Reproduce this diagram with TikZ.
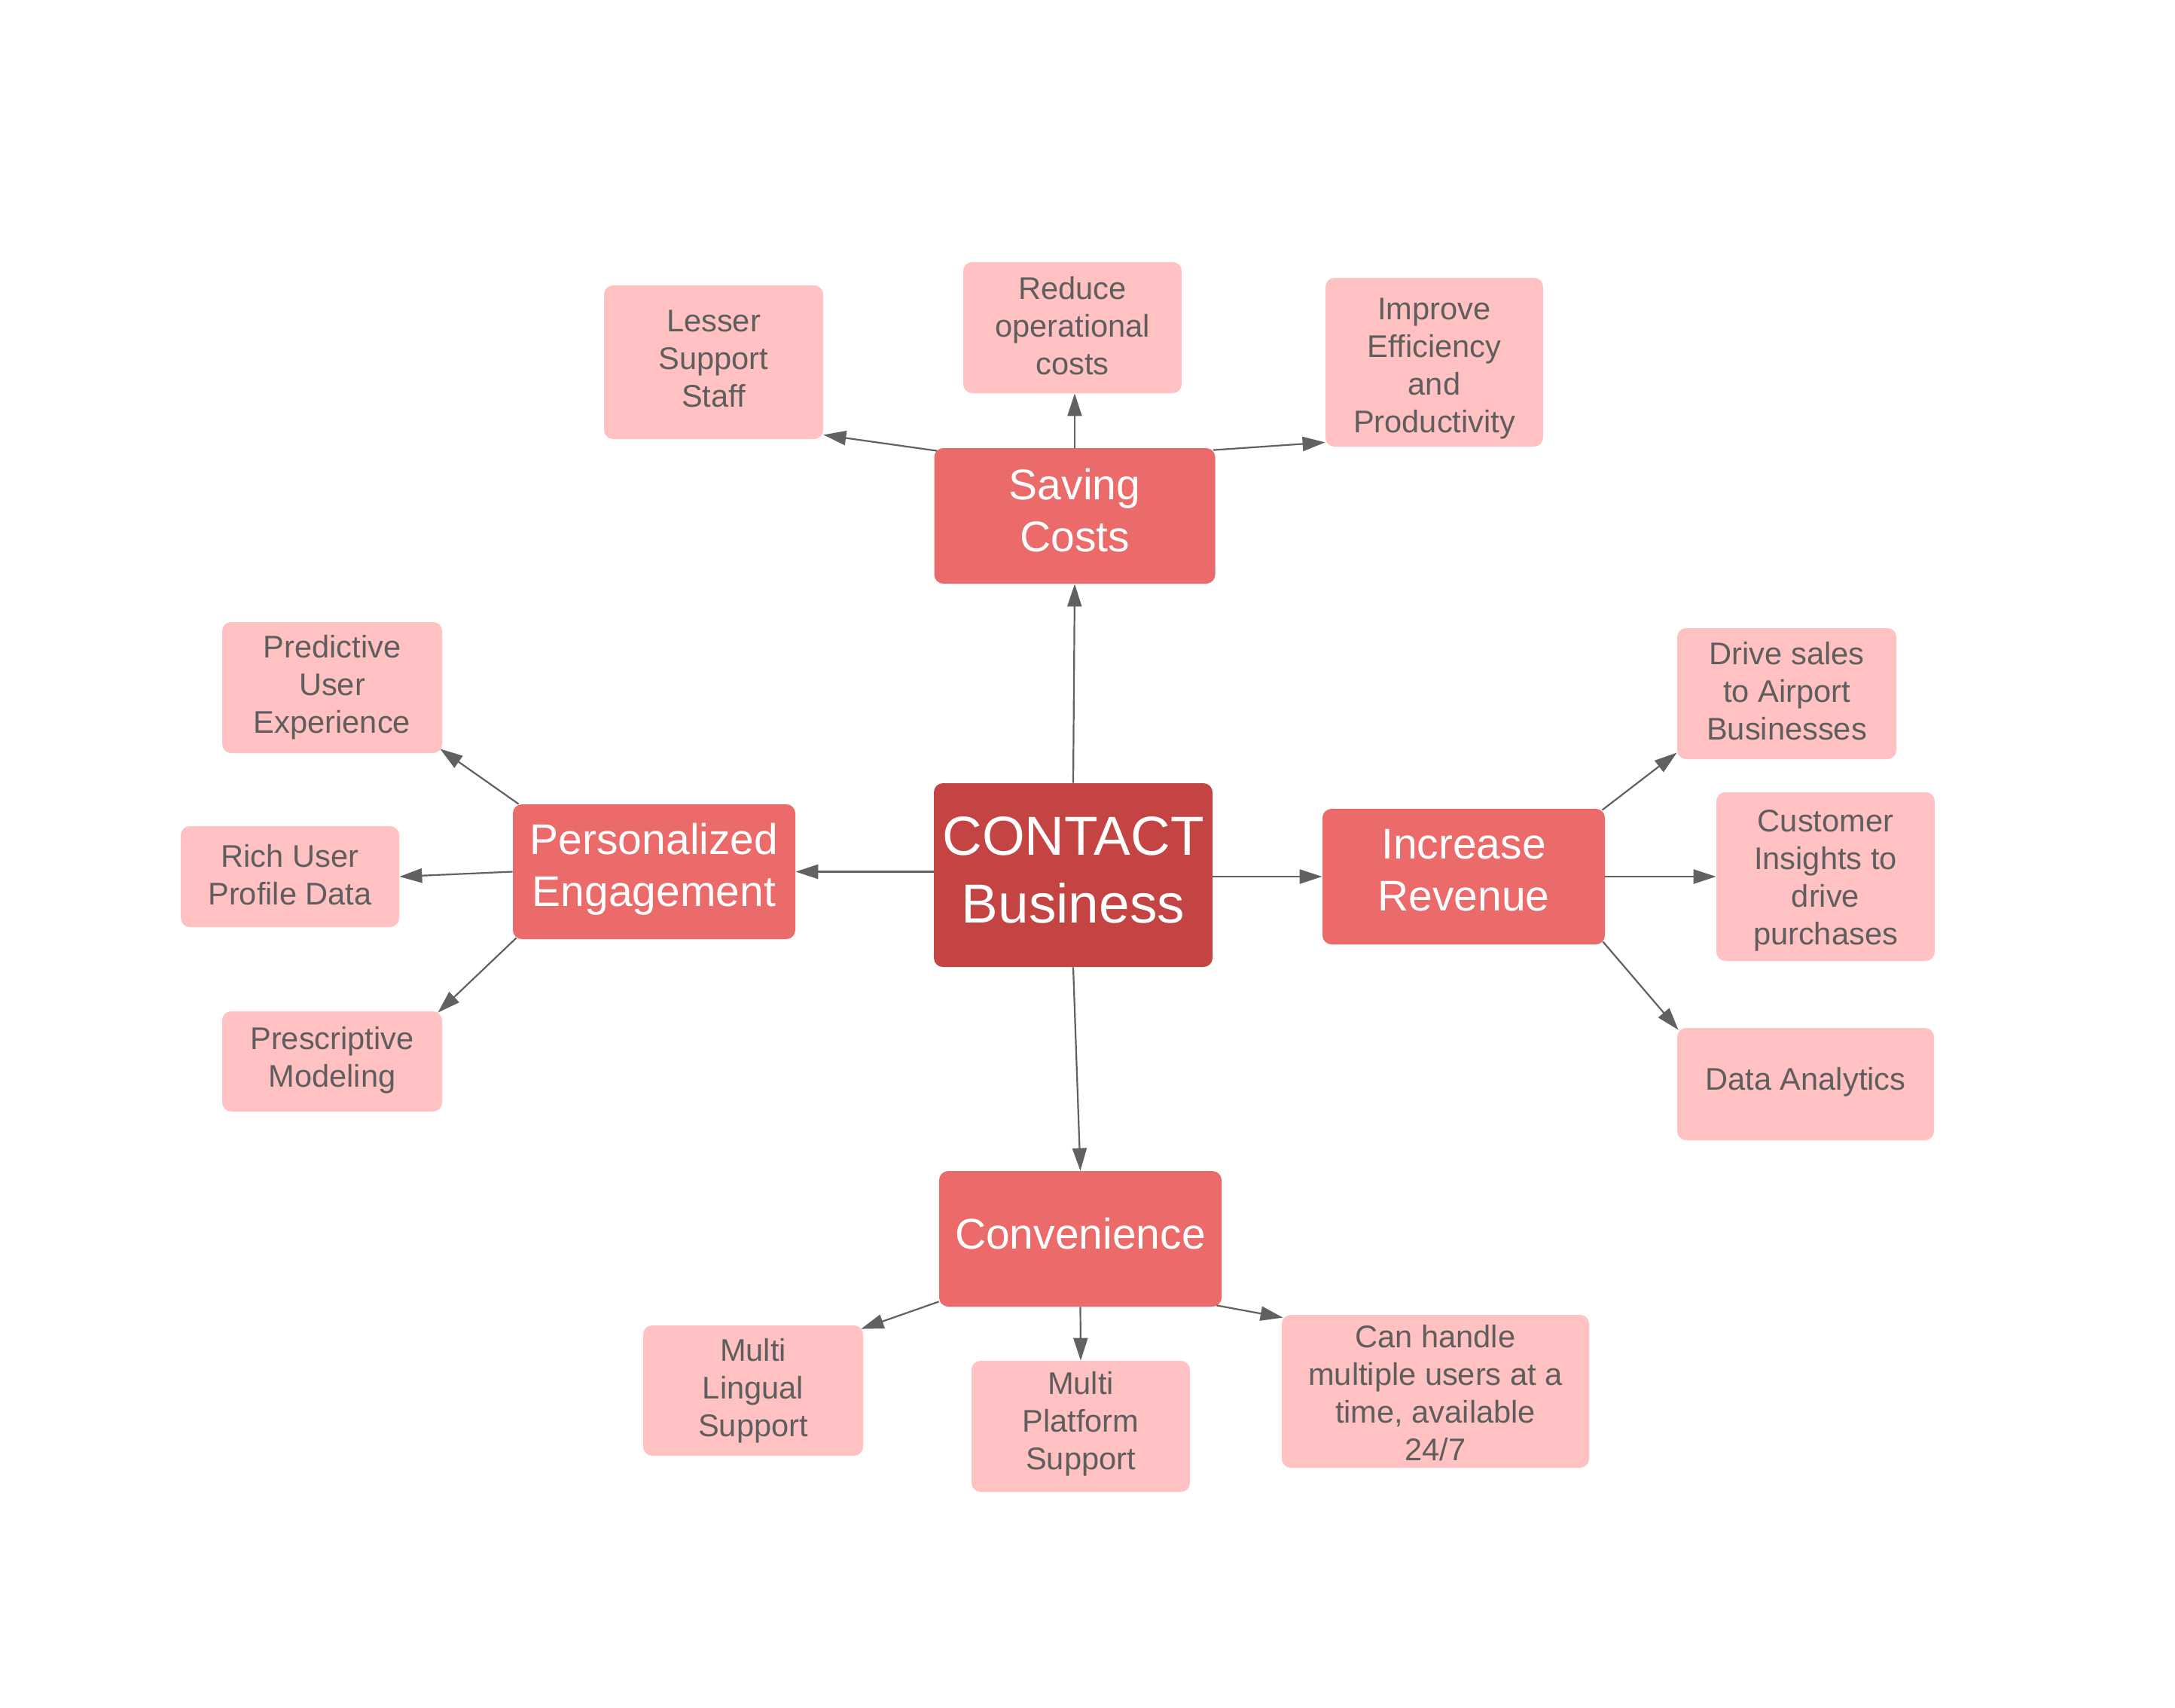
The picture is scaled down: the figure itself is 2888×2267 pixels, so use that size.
\documentclass[tikz,border=0pt]{standalone}
\usepackage{fontspec}
\setmainfont{Liberation Sans}
\usetikzlibrary{arrows.meta,calc}
\definecolor{centerred}{HTML}{C44343}
\definecolor{midred}{HTML}{EB6B6B}
\definecolor{lightpink}{HTML}{FFC1C1}
\definecolor{txtgray}{HTML}{5E5E5E}
\definecolor{arrowgray}{HTML}{616161}
\tikzset{
  box/.style={rectangle, rounded corners=6pt, inner sep=0pt, draw=none},
  childbox/.style={box, fill=lightpink},
  midbox/.style={box, fill=midred},
  centerbox/.style={box, fill=centerred},
  childtext/.style={inner sep=0pt, align=center, text=txtgray, font=\fontsize{20.8pt}{25pt}\selectfont},
  midtext/.style={inner sep=0pt, align=center, text=white, font=\fontsize{28.5pt}{34.5pt}\selectfont},
  centertext/.style={inner sep=0pt, align=center, text=white, font=\fontsize{36.5pt}{45pt}\selectfont},
  conn/.style={draw=arrowgray, line width=1.1pt, -{Triangle[length=15pt,width=9.5pt]}}
}
\begin{document}
\begin{tikzpicture}[x=0.5pt,y=-0.5pt]
\useasboundingbox[fill=white] (0,0) rectangle (2888,2267);
% center
\node[centerbox, minimum width=185pt, minimum height=122pt] (contact) at (1425,1162) {};
\node[centertext] (contactt) at ($(contact)+(0,-7)$) {CONTACT\\Business};
% main branches
\node[midbox, minimum width=186.5pt, minimum height=90pt] (sc) at (1427,685) {};
\node[midtext] (sct) at ($(sc)+(0,-7)$) {Saving\\Costs};
\node[midbox, minimum width=187.5pt, minimum height=89.5pt] (pe) at (868.5,1157.5) {};
\node[midtext] (pet) at ($(pe)+(0,-3)$) {Personalized\\Engagement};
\node[midbox, minimum width=187.5pt, minimum height=90pt] (ir) at (1943.5,1164) {};
\node[midtext] (irt) at ($(ir)+(0,-8)$) {Increase\\Revenue};
\node[midbox, minimum width=187.5pt, minimum height=90pt] (conv) at (1434.5,1645) {};
\node[midtext] (convt) at ($(conv)+(0,-7)$) {Convenience};
% saving costs children
\node[childbox, minimum width=145.5pt, minimum height=102pt] (les) at (947.5,481) {};
\node[childtext] (lest) at ($(les)+(0,-5)$) {Lesser\\Support\\Staff};
\node[childbox, minimum width=145pt, minimum height=87pt] (red) at (1424,435) {};
\node[childtext] (redt) at ($(red)+(0,-2)$) {Reduce\\operational\\costs};
\node[childbox, minimum width=144.5pt, minimum height=112pt] (imp) at (1904.5,481) {};
\node[childtext] (impt) at ($(imp)+(0,8)$) {Improve\\Efficiency\\and\\Productivity};
% personalized children
\node[childbox, minimum width=146pt, minimum height=87pt] (pred) at (441,913) {};
\node[childtext] (predt) at (pred) {Predictive\\User\\Experience};
\node[childbox, minimum width=145pt, minimum height=67pt] (rich) at (385,1164) {};
\node[childtext] (richt) at ($(rich)+(0,-2)$) {Rich User\\Profile Data};
\node[childbox, minimum width=146pt, minimum height=66.5pt] (pres) at (441,1409.5) {};
\node[childtext] (prest) at ($(pres)+(0,-2)$) {Prescriptive\\Modeling};
% revenue children
\node[childbox, minimum width=145.5pt, minimum height=87pt] (drive) at (2372.5,921) {};
\node[childtext] (drivet) at ($(drive)+(0,-3)$) {Drive sales\\to Airport\\Businesses};
\node[childbox, minimum width=145pt, minimum height=112pt] (cust) at (2424,1164) {};
\node[childtext] (custt) at ($(cust)+(0,5)$) {Customer\\Insights to\\drive\\purchases};
\node[childbox, minimum width=170.5pt, minimum height=74.5pt] (data) at (2397.5,1439.5) {};
\node[childtext] (datat) at ($(data)+(0,-3)$) {Data Analytics};
% convenience children
\node[childbox, minimum width=146pt, minimum height=86.5pt] (ml) at (1000,1846.5) {};
\node[childtext] (mlt) at (ml) {Multi\\Lingual\\Support};
\node[childbox, minimum width=145pt, minimum height=87pt] (mp) at (1435,1894) {};
\node[childtext] (mpt) at ($(mp)+(0,-3)$) {Multi\\Platform\\Support};
\node[childbox, minimum width=204pt, minimum height=101.5pt] (can) at (1906,1847.5) {};
\node[childtext] (cant) at ($(can)+(0,2)$) {Can handle\\multiple users at a\\time, available\\24/7};
% connectors
\draw[conn] (contact.north) -- (sc.south);
\draw[conn] (sc.north) -- (sc.north |- red.south);
\draw[conn] ($(sc.north west)+(4,4)$) -- ($(les.south east)+(0,-6)$);
\draw[conn] ($(sc.north east)+(-3,3)$) -- ($(imp.south west)+(0,-6)$);
\draw[conn] (contact.west |- pe.east) -- (pe.east);
\draw[conn] (pe.west) -- (rich.east);
\draw[conn] ($(pe.north west)+(8,0)$) -- ($(pred.south east)+(-3,-6)$);
\draw[conn] ($(pe.south west)+(5,-2)$) -- ($(pres.north east)+(-6,2)$);
\draw[conn] (contact.east |- ir.west) -- (ir.west);
\draw[conn] (ir.east) -- (cust.west);
\draw[conn] ($(ir.north east)+(-4,2)$) -- ($(drive.south west)+(0,-9)$);
\draw[conn] ($(ir.south east)+(-3,-4)$) -- ($(data.north west)+(2,3)$);
\draw[conn] (contact.south) -- (conv.north);
\draw[conn] ($(conv.south west)+(0,-7)$) -- ($(ml.north east)+(-3,5)$);
\draw[conn] (conv.south) -- (mp.north);
\draw[conn] ($(conv.south east)+(-7,-2)$) -- ($(can.north west)+(2,4)$);
\end{tikzpicture}
\end{document}
